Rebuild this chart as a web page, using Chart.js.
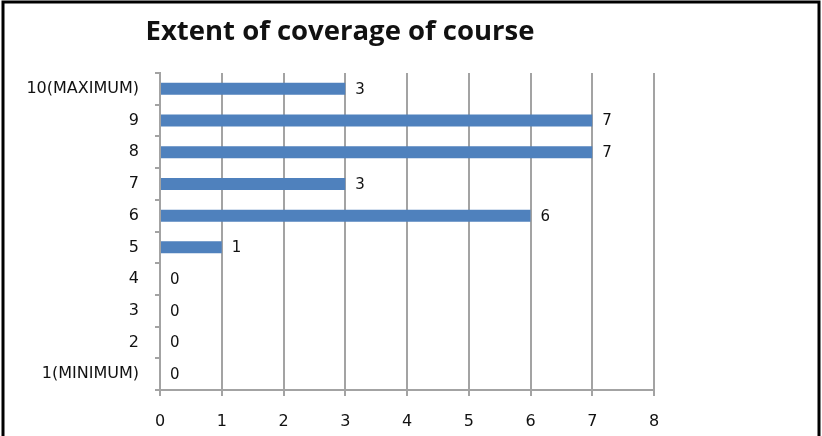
<!DOCTYPE html>
<html>
<head>
<meta charset="utf-8">
<script src="https://cdn.jsdelivr.net/npm/chart.js@4"></script>
<style>
  body { margin: 0; background: #fff; }
  #wrap { position: relative; width: 822px; height: 436px; }
</style>
</head>
<body>
<div id="wrap"><canvas id="coverageChart" width="822" height="436"></canvas></div>
<script>
// chart data
const titleText = 'Extent of coverage of course';
const ratings = ['10(MAXIMUM)', '9', '8', '7', '6', '5', '4', '3', '2', '1(MINIMUM)'];
const counts = [3, 7, 7, 3, 6, 1, 0, 0, 0, 0];
const xMin = 0;
const xMax = 8;

const labelFont = { family: 'DejaVu Sans', size: 16 };
const gridColor = '#a3a3a3';

// value labels at bar ends
const valueLabels = {
  id: 'valueLabels',
  afterDatasetsDraw(chart) {
    const ctx = chart.ctx;
    const meta = chart.getDatasetMeta(0);
    ctx.save();
    ctx.font = '15px "DejaVu Sans"';
    ctx.fillStyle = '#111';
    ctx.textAlign = 'left';
    ctx.textBaseline = 'middle';
    meta.data.forEach((bar, i) => {
      ctx.fillText(String(counts[i]), bar.x + 10, bar.y + 1);
    });
    ctx.restore();
  }
};

// title + black frame round the picture
const titleAndFrame = {
  id: 'titleAndFrame',
  afterDraw(chart) {
    const ctx = chart.ctx;
    ctx.save();
    ctx.font = 'bold 27.5px "Open Sans"';
    ctx.fillStyle = '#111';
    ctx.textAlign = 'center';
    ctx.textBaseline = 'alphabetic';
    ctx.fillText(titleText, 340, 40);

    ctx.strokeStyle = '#000';
    ctx.lineWidth = 3;
    ctx.beginPath();
    ctx.moveTo(3, 436);
    ctx.lineTo(3, 2);
    ctx.lineTo(819, 2);
    ctx.lineTo(819, 436);
    ctx.stroke();
    ctx.restore();
  }
};

const ctx = document.getElementById('coverageChart').getContext('2d');
new Chart(ctx, {
  type: 'bar',
  data: {
    labels: ratings,
    datasets: [{
      data: counts,
      backgroundColor: '#4f81bd',
      borderWidth: 0,
      categoryPercentage: 1,
      barPercentage: 0.38
    }]
  },
  options: {
    indexAxis: 'y',
    responsive: false,
    animation: false,
    layout: { padding: { left: 0, top: 73, right: 168, bottom: 0 } },
    plugins: {
      legend: { display: false },
      tooltip: { enabled: false }
    },
    scales: {
      x: {
        min: xMin,
        max: xMax,
        ticks: { stepSize: 1, color: '#111', font: labelFont, padding: 16 },
        grid: { color: gridColor, lineWidth: 2, tickLength: 6 },
        border: { color: gridColor, width: 2 },
        afterFit(scale) { scale.height = 46; }
      },
      y: {
        ticks: { color: '#111', font: labelFont, padding: 16 },
        grid: { color: gridColor, lineWidth: 2, drawOnChartArea: false, tickLength: 5, offset: true },
        border: { color: gridColor, width: 2 },
        afterFit(scale) { scale.width = 160; }
      }
    }
  },
  plugins: [valueLabels, titleAndFrame]
});
</script>
</body>
</html>
